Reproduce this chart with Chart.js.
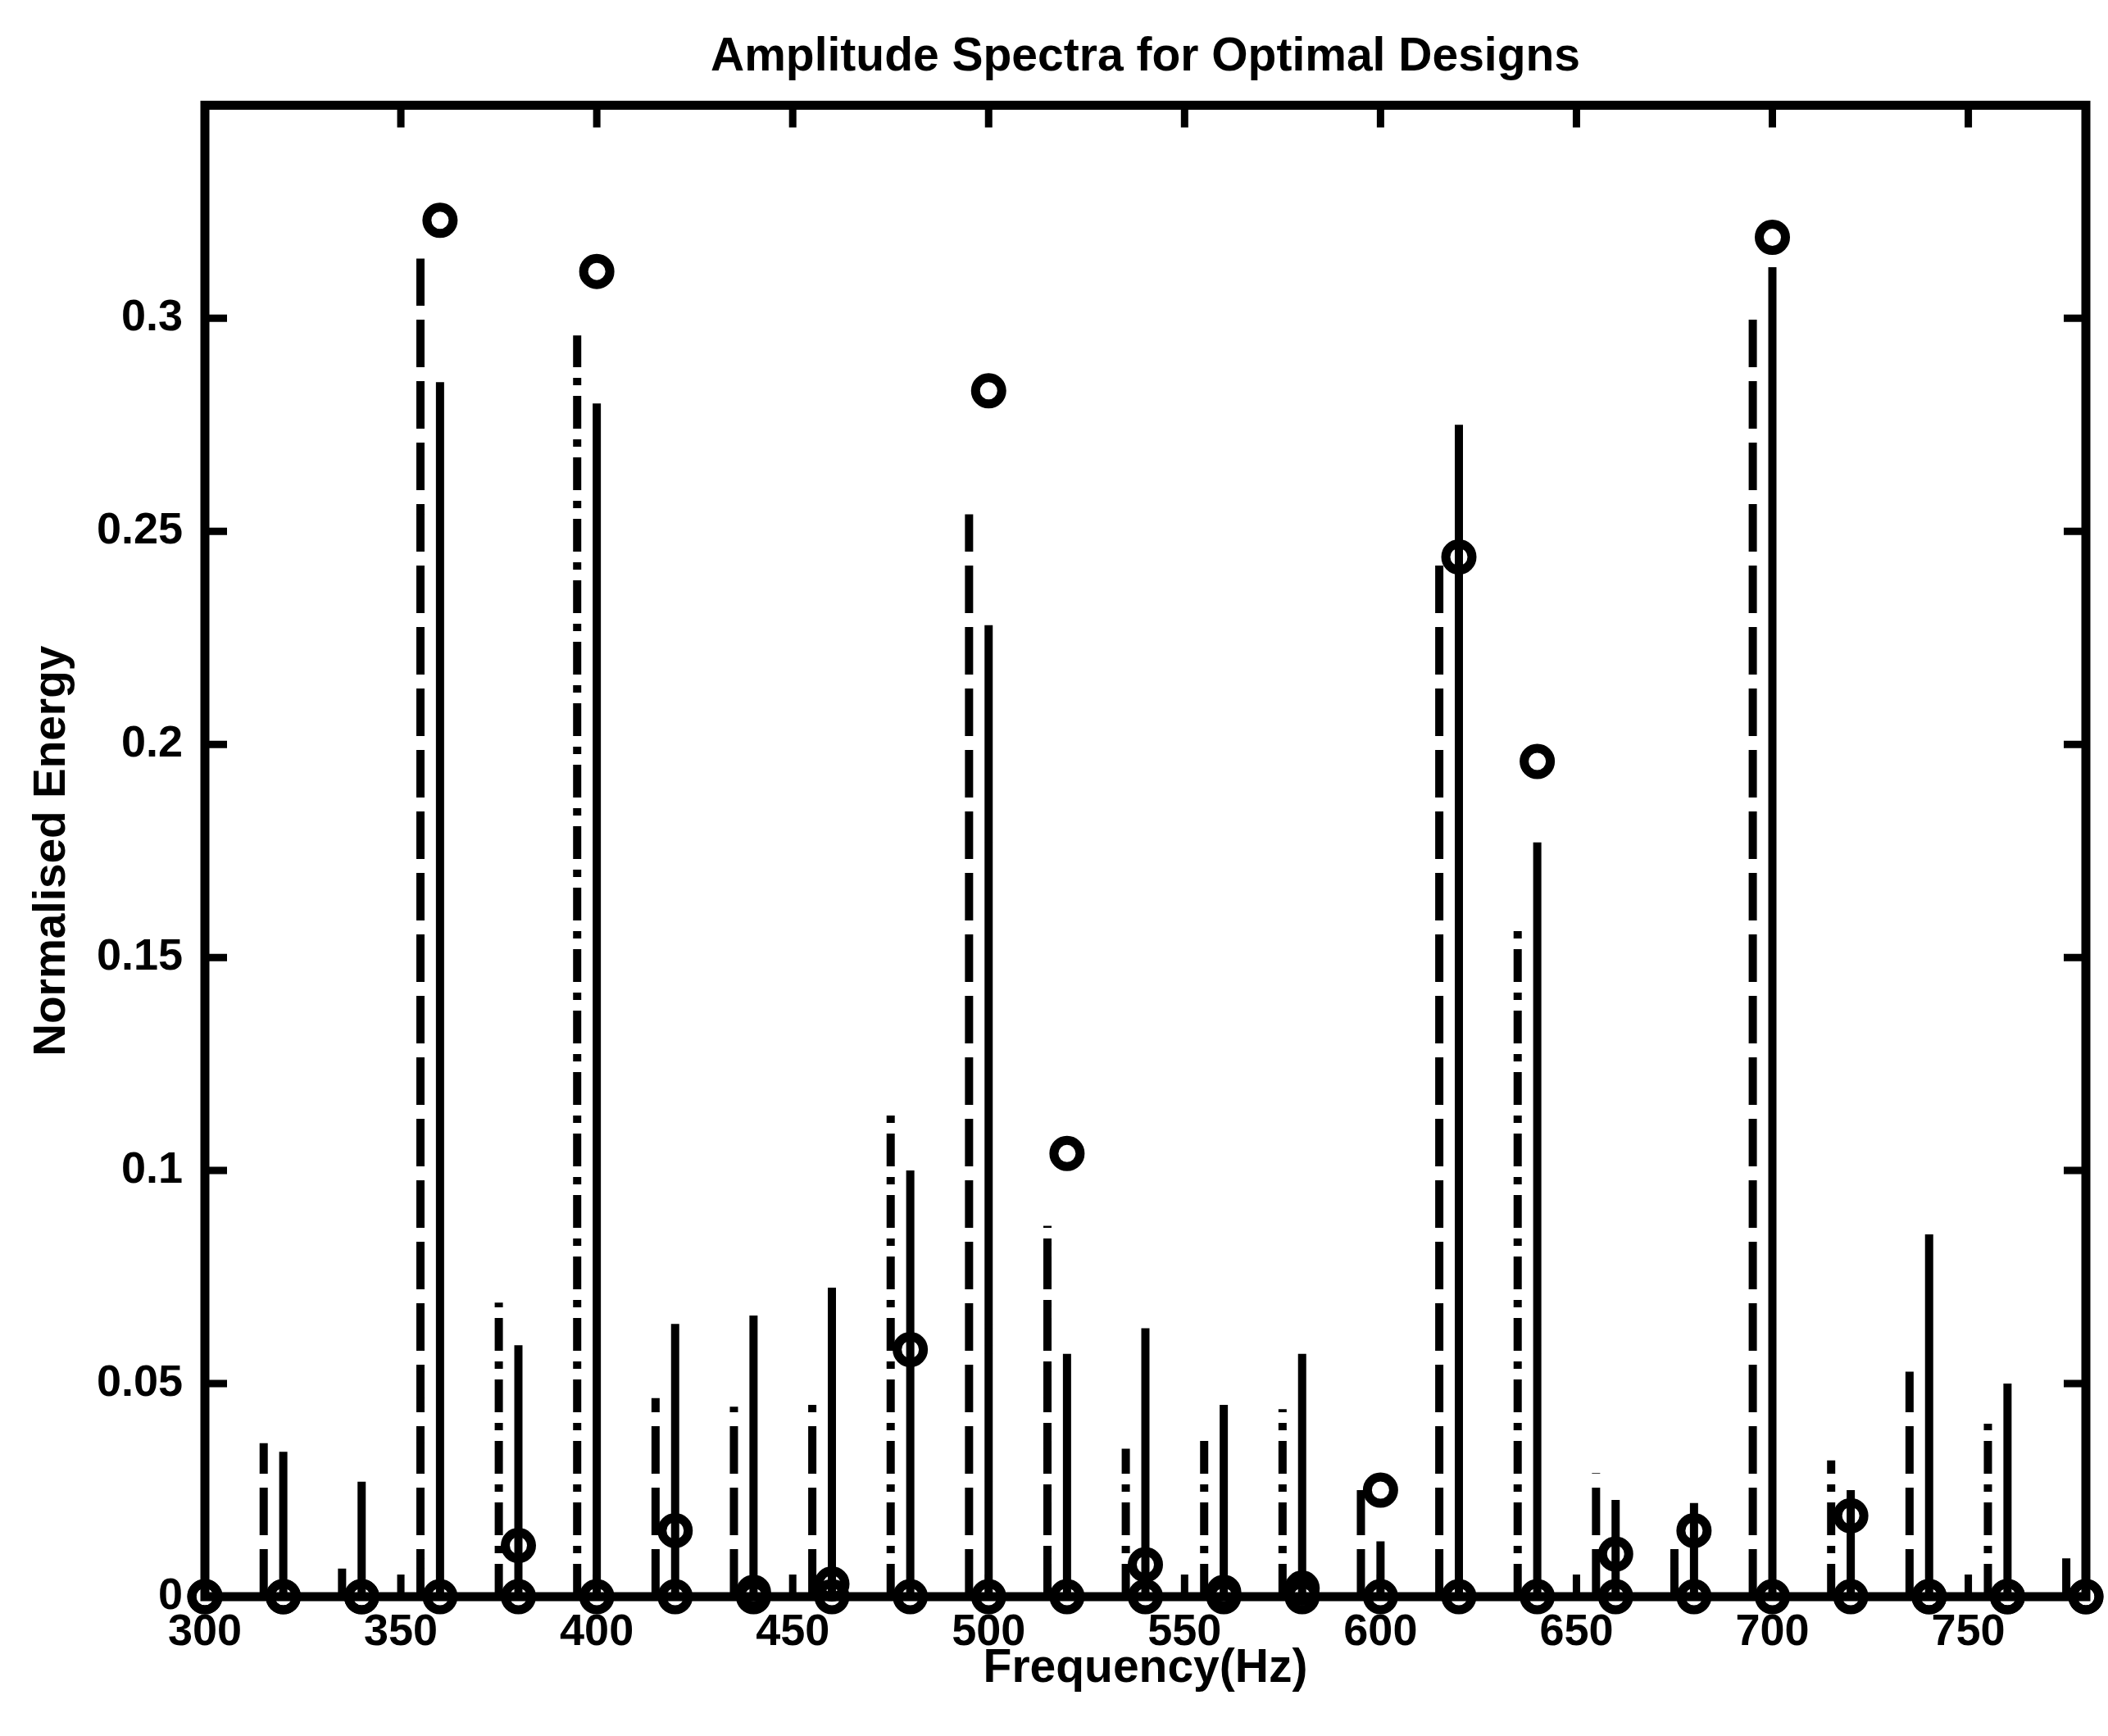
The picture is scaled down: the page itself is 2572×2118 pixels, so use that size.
<!DOCTYPE html>
<html>
<head>
<meta charset="utf-8">
<title>Amplitude Spectra</title>
<script src="https://cdn.jsdelivr.net/npm/chart.js@4.4.1/dist/chart.umd.min.js"></script>
<style>
  html, body { margin: 0; padding: 0; background: #fff; }
</style>
</head>
<body>
<canvas id="spectra" width="2572" height="2118"></canvas>
<script>
// frequencies of the harmonics (Hz)
const freqs = [300, 320, 340, 360, 380, 400, 420, 440, 460, 480, 500, 520, 540,
               560, 580, 600, 620, 640, 660, 680, 700, 720, 740, 760, 780];

// circles: target levels
const targetEnergy = [0, 0, 0, 0.323, 0.012, 0.311, 0.0155, 0.001, 0.003, 0.058, 0.283, 0.104, 0.0075,
                      0.001, 0.002, 0.025, 0.244, 0.196, 0.010, 0.0155, 0.319, 0.019, 0, 0, 0];
// circles sitting on the zero line
const zeroEnergy = freqs.map(() => 0);

// solid stems (at the harmonic)
const solidEnergy = [0, 0.034, 0.027, 0.285, 0.059, 0.280, 0.064, 0.066, 0.0725, 0.100, 0.228, 0.057, 0.063,
                     0.045, 0.057, 0.013, 0.275, 0.177, 0.0227, 0.022, 0.312, 0.025, 0.085, 0.050, 0];
// dashed and dash-dot stems (drawn a few Hz below the harmonic)
const dashedEnergy = [null, 0.036, 0.0066, 0.314, null, null, 0.0466, 0.0446, 0.045, null, 0.254, 0.087, null,
                      null, null, 0.025, 0.244, null, 0.029, 0.0138, 0.302, null, 0.0528, null, 0.009];
const dashDotEnergy = [null, null, null, null, 0.069, 0.296, null, null, null, 0.114, null, 0.087, 0.0347,
                       0.038, 0.044, null, null, 0.158, null, null, null, 0.032, null, 0.0406, null];
const stemShift = 5; // Hz

const xTicks = [300, 350, 400, 450, 500, 550, 600, 650, 700, 750];
const yTicks = [0, 0.05, 0.1, 0.15, 0.2, 0.25, 0.3];

const family = "'Liberation Sans', Arial, Helvetica, sans-serif";

// turn values into vertical segments, separated by gaps
function stems(xs, vals, shift) {
    const pts = [];
    xs.forEach((f, i) => {
        if (vals[i] === null) return;
        pts.push({ x: f - shift, y: 0 }, { x: f - shift, y: vals[i] }, { x: f - shift, y: null });
    });
    return pts;
}

function circles(vals) {
    return freqs.map((f, i) => ({ x: f, y: vals[i] }));
}

const stemStyle = {
    borderColor: '#000',
    borderWidth: 10,
    pointRadius: 0,
    spanGaps: false,
    fill: false
};
const circleStyle = {
    showLine: false,
    pointRadius: 16,
    pointBorderWidth: 11,
    pointBorderColor: '#000',
    pointBackgroundColor: 'rgba(0,0,0,0)',
    clip: false
};

// box round the plot with inward tick marks on all four sides
const frameTicks = {
    id: 'frameTicks',
    beforeDatasetsDraw(chart) {
        const { ctx, chartArea: a, scales: { x, y } } = chart;
        ctx.save();
        ctx.strokeStyle = '#000';
        ctx.lineWidth = 11;
        ctx.strokeRect(a.left, a.top, a.right - a.left, a.bottom - a.top);
        ctx.lineWidth = 9;
        ctx.beginPath();
        xTicks.forEach(v => {
            const px = x.getPixelForValue(v);
            ctx.moveTo(px, a.bottom); ctx.lineTo(px, a.bottom - 27);
            ctx.moveTo(px, a.top); ctx.lineTo(px, a.top + 27);
        });
        yTicks.forEach(v => {
            const py = y.getPixelForValue(v);
            ctx.moveTo(a.left, py); ctx.lineTo(a.left + 27, py);
            ctx.moveTo(a.right, py); ctx.lineTo(a.right - 27, py);
        });
        ctx.stroke();
        ctx.restore();
    }
};

new Chart(document.getElementById('spectra'), {
    type: 'line',
    data: {
        datasets: [
            { ...circleStyle, data: circles(targetEnergy) },
            { ...circleStyle, data: circles(zeroEnergy) },
            { ...stemStyle, data: stems(freqs, solidEnergy, 0) },
            { ...stemStyle, borderDash: [58, 17], data: stems(freqs, dashedEnergy, stemShift) },
            { ...stemStyle, borderDash: [40, 13, 9, 13], data: stems(freqs, dashDotEnergy, stemShift) }
        ]
    },
    options: {
        responsive: false,
        animation: false,
        devicePixelRatio: 1,
        layout: { padding: { left: 0, right: 19, top: 0, bottom: 0 } },
        plugins: {
            legend: { display: false },
            tooltip: { enabled: false },
            title: {
                display: true,
                fullSize: false,
                text: 'Amplitude Spectra for Optimal Designs',
                color: '#000',
                font: { family, size: 57, weight: 'bold' },
                padding: { top: 36, bottom: 24 }
            }
        },
        scales: {
            x: {
                type: 'linear',
                min: 300,
                max: 780,
                grid: { display: false, drawTicks: false },
                border: { display: false },
                ticks: {
                    stepSize: 50,
                    includeBounds: false,
                    autoSkip: false,
                    maxRotation: 0,
                    padding: 12,
                    color: '#000',
                    font: { family, size: 54, weight: 'bold' }
                },
                title: {
                    display: true,
                    text: 'Frequency(Hz)',
                    color: '#000',
                    font: { family, size: 57, weight: 'bold' },
                    padding: { top: 0, bottom: 48 }
                },
                afterFit(scale) { scale.height = 170; }
            },
            y: {
                min: 0,
                max: 0.35,
                grid: { display: false, drawTicks: false },
                border: { display: false },
                ticks: {
                    stepSize: 0.05,
                    padding: 27,
                    color: '#000',
                    font: { family, size: 54, weight: 'bold' },
                    callback: v => (v > 0.34 ? '' : String(+v.toFixed(2)))
                },
                title: {
                    display: true,
                    text: 'Normalised Energy',
                    color: '#000',
                    font: { family, size: 55, weight: 'bold' },
                    padding: { top: 31, bottom: 0 }
                },
                afterFit(scale) { scale.width = 250; }
            }
        }
    },
    plugins: [frameTicks]
});
</script>
</body>
</html>
